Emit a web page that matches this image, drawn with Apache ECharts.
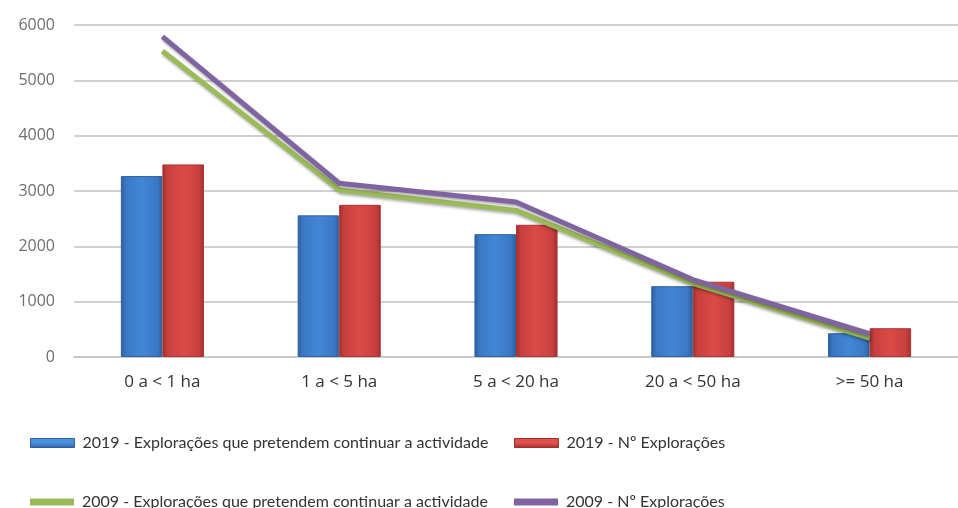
<!DOCTYPE html>
<html><head><meta charset="utf-8">
<script src="https://cdn.jsdelivr.net/npm/echarts@6/dist/echarts.min.js"></script>
<style>html,body{margin:0;padding:0;background:#fff}#c{width:958px;height:508px}</style>
</head><body><div id="c"></div>
<script>
const categories = ['0 a < 1 ha', '1 a < 5 ha', '5 a < 20 ha', '20 a < 50 ha', '>= 50 ha'];
const names = [
  '2019 - Explorações que pretendem continuar a actividade',
  '2019 - Nº Explorações',
  '2009 - Explorações que pretendem continuar a actividade',
  '2009 - Nº Explorações'
];
const bar2019Continue = [3270, 2560, 2220, 1280, 430];
const bar2019Total = [3480, 2750, 2390, 1360, 520];
const line2009Continue = [5530, 3020, 2650, 1330, 340];
const line2009Total = [5790, 3140, 2800, 1400, 420];
const yTicks = [0, 1000, 2000, 3000, 4000, 5000, 6000];

function hGrad(dark, mid, light) {
  return new echarts.graphic.LinearGradient(0, 0, 1, 0, [
    {offset: 0, color: dark}, {offset: 0.12, color: mid}, {offset: 0.5, color: light},
    {offset: 0.88, color: mid}, {offset: 1, color: dark}
  ]);
}
function vGrad(dark, light) {
  return new echarts.graphic.LinearGradient(0, 0, 0, 1, [
    {offset: 0, color: light}, {offset: 0.5, color: light}, {offset: 1, color: dark}
  ]);
}
const blueFill = hGrad('#2c5d9a', '#3a78c4', '#4187d6');
const redFill = hGrad('#9e2f2d', '#c8403e', '#dc4a47');

const legendText = {fontFamily: 'Lato, "Open Sans", sans-serif', fontSize: 16, color: '#333', padding: [0, 0, 0, 3]};
function legend(name, left, top, color, h, border) {
  return {data: [{name: name, icon: 'rect', itemStyle: {color: color, borderColor: border || color, borderWidth: border ? 1 : 0}}],
    left: left, top: top, padding: 0, itemWidth: 44, itemHeight: h, itemGap: 0,
    textStyle: legendText, selectedMode: false};
}

const chart = echarts.init(document.getElementById('c'));
chart.setOption({
  animation: false,
  grid: {left: 74, right: 0, top: 25, bottom: 151},
  legend: [
    legend(names[0], 30, 435, vGrad('#2d5f9e', '#4a92dc'), 9, '#2d5f9e'),
    legend(names[1], 514, 435, vGrad('#9e2f2d', '#e0504d'), 9, '#9e2f2d'),
    legend(names[2], 30, 494, '#9bbb59', 7),
    legend(names[3], 514, 494, '#8064a2', 7)
  ],
  xAxis: {
    type: 'category', data: categories,
    axisLine: {lineStyle: {color: '#c8c8c8', width: 2}},
    axisTick: {show: false},
    axisLabel: {margin: 17, fontFamily: '"Open Sans", sans-serif', fontSize: 17, color: '#333'}
  },
  yAxis: {
    type: 'value', min: yTicks[0], max: yTicks[yTicks.length - 1], interval: 1000,
    axisLine: {show: false}, axisTick: {show: false},
    splitLine: {lineStyle: {color: '#d0d0d0', width: 2}},
    axisLabel: {margin: 19, fontFamily: '"Open Sans", sans-serif', fontSize: 16, color: '#6e6e6e', formatter: v => String(v)}
  },
  series: [
    {name: names[0], type: 'bar', data: bar2019Continue, barGap: '0%', barCategoryGap: '53%',
      itemStyle: {color: blueFill, borderColor: '#2f62a0', borderWidth: 1}},
    {name: names[1], type: 'bar', data: bar2019Total,
      itemStyle: {color: redFill, borderColor: '#a83431', borderWidth: 1}},
    {name: names[2], type: 'line', data: line2009Continue, symbol: 'none', z: 3,
      lineStyle: {color: '#9bbb59', width: 5, shadowColor: 'rgba(0,0,0,0.35)', shadowBlur: 3, shadowOffsetX: 1, shadowOffsetY: 2},
      itemStyle: {color: '#9bbb59'}},
    {name: names[3], type: 'line', data: line2009Total, symbol: 'none', z: 4,
      lineStyle: {color: '#8064a2', width: 5, shadowColor: 'rgba(0,0,0,0.35)', shadowBlur: 3, shadowOffsetX: 1, shadowOffsetY: 2},
      itemStyle: {color: '#8064a2'}}
  ]
});
</script></body></html>
